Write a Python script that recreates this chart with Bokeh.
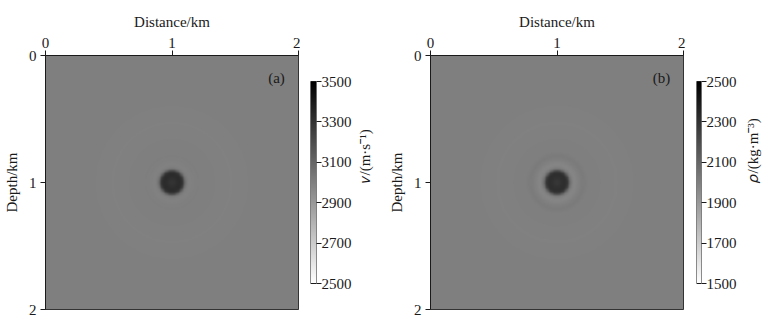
import numpy as np
from bokeh.plotting import figure
from bokeh.layouts import row
from bokeh.models import Range1d, LinearColorMapper, Label, FixedTicker, LinearAxis
from bokeh.palettes import Greys256
from bokeh.embed import file_html
from bokeh.resources import INLINE

# ---------------- data ----------------
x_ticks = [0, 1, 2]
z_ticks = [0, 1, 2]
vel_ticks = [2500, 2700, 2900, 3100, 3300, 3500]
rho_ticks = [1500, 1700, 1900, 2100, 2300, 2500]
vel_limits = [2500, 3500]
rho_limits = [1500, 2500]

vel_background = 3000
vel_anomaly = 3340
vel_center_dip = -45
rho_background = 2000
rho_anomaly = 2330
rho_center_dip = -45

anomaly_x = 1.0
anomaly_z = 1.0
anomaly_radius = 0.095

ring_radii = [0.14, 0.21, 0.47]
vel_ring_amp = [-8, 4, -5]
rho_ring_amp = [-24, 16, -6]

# ---------------- model grids ----------------
n = 320
xs = np.linspace(0, 2, n)
X, Z = np.meshgrid(xs, xs)
R = np.hypot(X - anomaly_x, Z - anomaly_z)
disk = 0.5 * (1 - np.tanh((R - anomaly_radius) / 0.016))
center = np.exp(-(R / 0.045) ** 2)


def build(bg, anom, dip, amps):
    f = bg + (anom - bg) * disk + dip * center
    for r0, a in zip(ring_radii, amps):
        f = f + a * np.exp(-((R - r0) / 0.025) ** 2)
    return f


vel = build(vel_background, vel_anomaly, vel_center_dip, vel_ring_amp)
rho = build(rho_background, rho_anomaly, rho_center_dip, rho_ring_amp)

pal = list(reversed(Greys256))
FONT = "Liberation Serif"
TXT = "#1a1a1a"
TOP, BOTTOM = 55, 10
FRAME_W, FRAME_H = 253, 254
HEIGHT = TOP + FRAME_H + BOTTOM


def style_axis(ax):
    ax.axis_line_color = TXT
    ax.major_tick_line_color = TXT
    ax.minor_tick_line_color = None
    ax.major_tick_out = 5
    ax.major_tick_in = 0
    ax.major_label_text_font = FONT
    ax.major_label_text_font_size = "15px"
    ax.major_label_text_color = TXT
    ax.axis_label_text_font = FONT
    ax.axis_label_text_font_size = "15px"
    ax.axis_label_text_font_style = "normal"
    ax.axis_label_text_color = TXT


def main_panel(field, mapper, tag, left_border):
    p = figure(width=left_border + FRAME_W + 2, height=HEIGHT,
               x_range=Range1d(0, 2), y_range=Range1d(2, 0),
               x_axis_location="above", output_backend="svg",
               toolbar_location=None,
               min_border_left=left_border, min_border_right=2,
               min_border_top=TOP, min_border_bottom=BOTTOM)
    p.image(image=[field], x=0, y=0, dw=2, dh=2, color_mapper=mapper)
    p.grid.visible = False
    p.outline_line_color = TXT
    p.outline_line_width = 1
    p.xaxis.ticker = FixedTicker(ticks=x_ticks)
    p.yaxis.ticker = FixedTicker(ticks=z_ticks)
    p.xaxis.axis_label = "Distance/km"
    p.yaxis.axis_label = "Depth/km"
    for ax in (p.xaxis[0], p.yaxis[0]):
        style_axis(ax)
    p.xaxis.major_label_standoff = 3
    p.xaxis.axis_label_standoff = 5
    p.yaxis.major_label_standoff = 4
    p.yaxis.axis_label_standoff = 6
    p.add_layout(Label(x=231, y=232, x_units="screen", y_units="screen",
                       text=tag, text_font=FONT, text_font_size="15px",
                       text_color=TXT, text_align="center",
                       text_baseline="middle"))
    return p


def colorbar_panel(mapper, limits, ticks, title, width, left, bar_w,
                   label_standoff, title_standoff):
    lo, hi = limits
    pad = (hi - lo) * 26.0 / 202.0
    cb = figure(width=width, height=HEIGHT,
                x_range=Range1d(0, 1), y_range=Range1d(lo - pad, hi + pad),
                x_axis_location=None, y_axis_location="right",
                output_backend="svg", toolbar_location=None,
                min_border_left=left, min_border_right=width - left - bar_w,
                min_border_top=TOP, min_border_bottom=BOTTOM)
    grad = np.linspace(lo, hi, 256).reshape(256, 1)
    cb.image(image=[grad], x=0, y=lo, dw=1, dh=hi - lo, color_mapper=mapper)
    cb.quad(left=0, right=1, bottom=lo, top=hi, fill_color=None,
            line_color=TXT, line_width=1)
    cb.grid.visible = False
    cb.outline_line_color = None
    cb.yaxis.ticker = FixedTicker(ticks=ticks)
    style_axis(cb.yaxis[0])
    cb.yaxis.axis_line_color = None
    cb.yaxis.major_label_standoff = label_standoff
    ax2 = LinearAxis(ticker=FixedTicker(ticks=[]), axis_label=title)
    style_axis(ax2)
    ax2.axis_line_color = None
    ax2.major_tick_out = 0
    ax2.axis_label_standoff = title_standoff
    try:
        ax2.axis_label_orientation = np.pi / 2
    except Exception:
        pass
    cb.add_layout(ax2, "right")
    return cb


vmap = LinearColorMapper(palette=pal, low=vel_limits[0], high=vel_limits[1])
rmap = LinearColorMapper(palette=pal, low=rho_limits[0], high=rho_limits[1])

pa = main_panel(vel, vmap, "(a)", 45)
ca = colorbar_panel(vmap, vel_limits, vel_ticks, "𝑣/(m·s⁻¹)", 85, 10, 6, 0, 10)
pb = main_panel(rho, rmap, "(b)", 45)
cbb = colorbar_panel(rmap, rho_limits, rho_ticks, "𝜌/(kg·m⁻³)", 86, 11, 7, 0, 13)

layout = row(pa, ca, pb, cbb)
open("out.html", "w").write(file_html(layout, INLINE))
